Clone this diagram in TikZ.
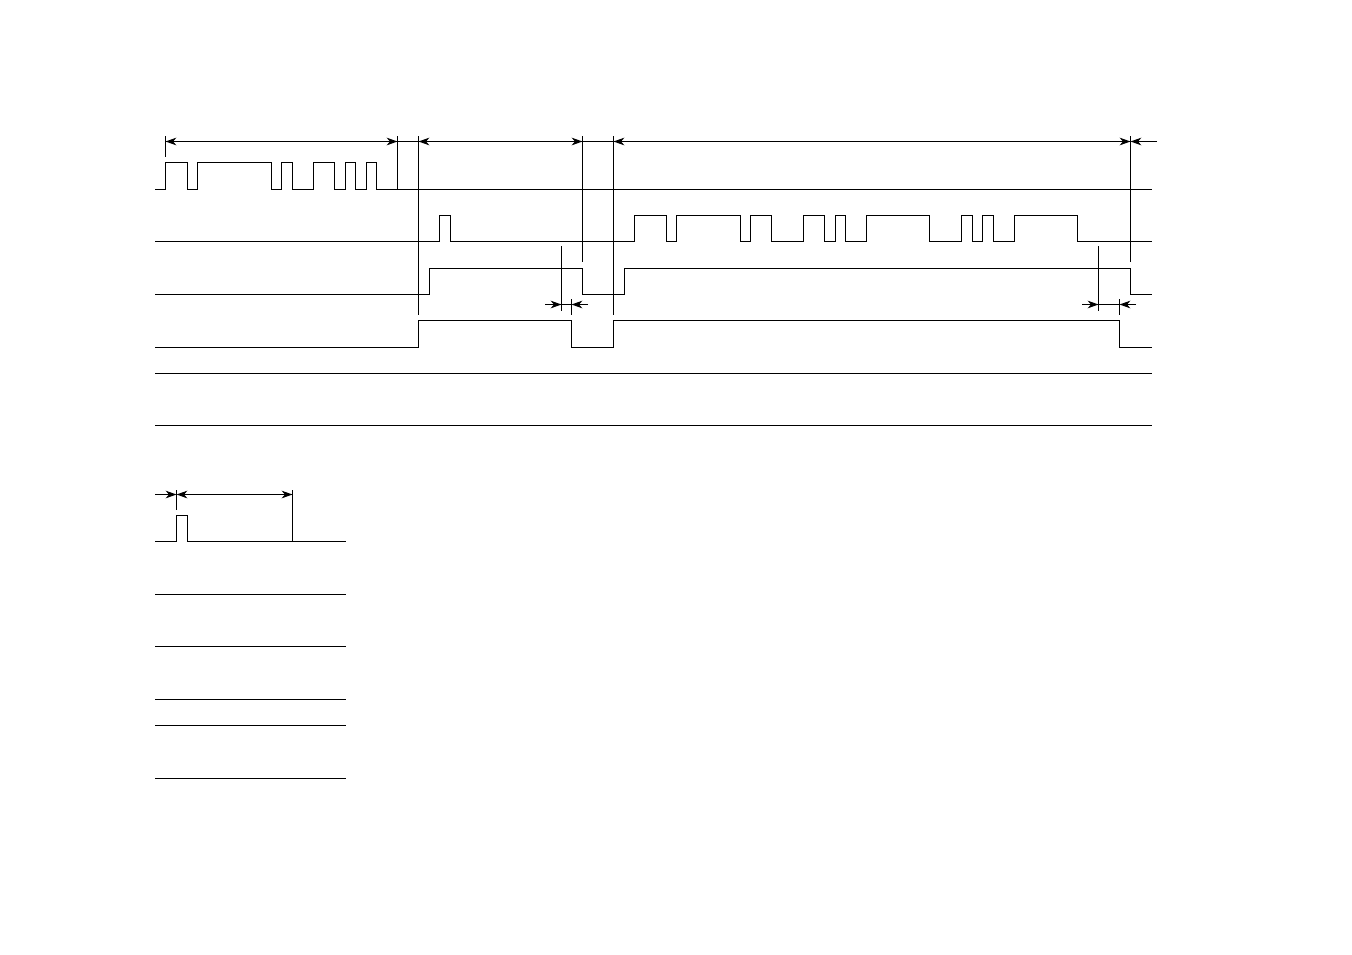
\documentclass[tikz,border=0pt]{standalone}
\usepackage{tikz}
\usetikzlibrary{
    arrows.meta,
    calc
}
\tikzset{
  tip/.tip = {Stealth[length=5.4pt,width=3.8pt,inset=1.6pt]},
  wave/.style = {
      line width=0.55pt
  },
  guide/.style = {
      line width=0.55pt
  },
  span/.style = {
      line width=0.55pt,
      tip-tip
  },
  lead/.style = {
      line width=0.55pt,
      -tip
  }
}

\begin{document}
\begin{tikzpicture}[x=0.5pt, y=-0.5pt]
    \useasboundingbox (0,0) rectangle (1352,954);
    % Markers on the dimension lines
    \coordinate (a0) at (165.5,141.5);
    \coordinate (a1) at (397.5,141.5);
    \coordinate (a2) at (418.5,141.5);
    \coordinate (a3) at (582.5,141.5);
    \coordinate (a4) at (613.5,141.5);
    \coordinate (a5) at (1130.5,141.5);
    \coordinate (a6) at (1157,141.5);
    \coordinate (b0) at (545,304.5);
    \coordinate (b1) at (561.5,304.5);
    \coordinate (b2) at (571.5,304.5);
    \coordinate (b3) at (588,304.5);
    \coordinate (c0) at (1082,304.5);
    \coordinate (c1) at (1098.5,304.5);
    \coordinate (c2) at (1119.5,304.5);
    \coordinate (c3) at (1136,304.5);
    \coordinate (d0) at (155,494.5);
    \coordinate (d1) at (176.5,494.5);
    \coordinate (d2) at (292.5,494.5);
    % Upper waveforms
    \draw[wave] (155,189.5) -| (165.5,162.5) -| (187.5,189.5) -| (197.5,162.5)
        -| (271.5,189.5) -| (281.5,162.5) -| (292.5,189.5) -| (313.5,162.5)
        -| (334.5,189.5) -| (345.5,162.5) -| (355.5,189.5) -| (366.5,162.5)
        -| (376.5,189.5) -- (1152,189.5);
    \draw[wave] (155,241.5) -| (439.5,215.5) -| (450.5,241.5) -| (634.5,215.5)
        -| (666.5,241.5) -| (676.5,215.5) -| (740.5,241.5) -| (750.5,215.5)
        -| (771.5,241.5) -| (803.5,215.5) -| (824.5,241.5) -| (835.5,215.5)
        -| (845.5,241.5) -| (866.5,215.5) -| (929.5,241.5) -| (961.5,215.5)
        -| (972.5,241.5) -| (982.5,215.5) -| (993.5,241.5) -| (1014.5,215.5)
        -| (1077.5,241.5) -- (1152,241.5);
    \draw[wave] (155,294.5) -| (429.5,268.5) -| (582.5,294.5) -| (624.5,268.5)
        -| (1130.5,294.5) -- (1152,294.5);
    \draw[wave] (155,347.5) -| (418.5,320.5) -| (571.5,347.5) -| (613.5,320.5)
        -| (1119.5,347.5) -- (1152,347.5);
    \draw[wave] (155,373.5) -- (1152,373.5);
    \draw[wave] (155,425.5) -- (1152,425.5);
    % Lower waveforms
    \draw[wave] (155,541.5) -| (176.5,515.5) -| (187.5,541.5) -- (345.5,541.5);
    \foreach \y in {594.5,646.5,699.5,725.5,778.5}
        \draw[wave] (155,\y) -- (345.5,\y);
    % Guides
    \draw[guide] (a0 |- 0,136) -- (a0 |- 0,157);
    \draw[guide] (a1 |- 0,136) -- (a1 |- 0,189.5);
    \draw[guide] (a2 |- 0,136) -- (a2 |- 0,315);
    \draw[guide] (a3 |- 0,136) -- (a3 |- 0,262);
    \draw[guide] (a4 |- 0,136) -- (a4 |- 0,315);
    \draw[guide] (a5 |- 0,136) -- (a5 |- 0,262);
    \draw[guide] (b1 |- 0,246) -- (b1 |- 0,311);
    \draw[guide] (b2 |- 0,299) -- (b2 |- 0,315);
    \draw[guide] (c1 |- 0,246) -- (c1 |- 0,311);
    \draw[guide] (c2 |- 0,299) -- (c2 |- 0,315);
    \draw[guide] (d1 |- 0,490) -- (d1 |- 0,510);
    \draw[guide] (d2 |- 0,490) -- (d2 |- 0,541.5);
    % Dimension arrows
    \draw[span] (a0) -- (a1);
    \draw[wave] (a1) -- (a2);
    \draw[span] (a2) -- (a3);
    \draw[wave] (a3) -- (a4);
    \draw[span] (a4) -- (a5);
    \draw[lead] (a6) -- (a5);
    \draw[lead] (b0) -- (b1);
    \draw[wave] (b1) -- (b2);
    \draw[lead] (b3) -- (b2);
    \draw[lead] (c0) -- (c1);
    \draw[wave] (c1) -- (c2);
    \draw[lead] (c3) -- (c2);
    \draw[lead] (d0) -- (d1);
    \draw[span] (d1) -- (d2);
\end{tikzpicture}
\end{document}
